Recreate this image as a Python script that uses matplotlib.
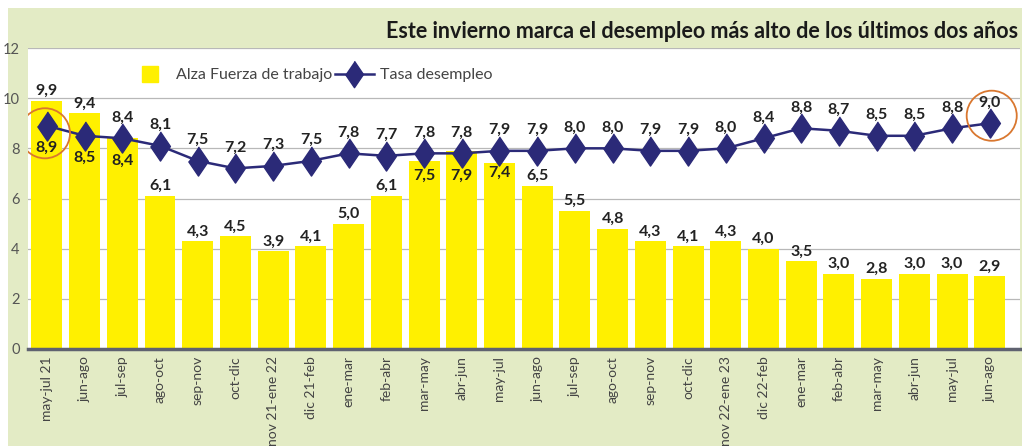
import numpy as np
import matplotlib.pyplot as plt
from matplotlib.patches import Rectangle
from matplotlib.lines import Line2D

# Datos
periodos = ["may-jul 21", "jun-ago", "jul-sep", "ago-oct", "sep-nov", "oct-dic",
            "nov 21-ene 22", "dic 21-feb", "ene-mar", "feb-abr", "mar-may", "abr-jun",
            "may-jul", "jun-ago", "jul-sep", "ago-oct", "sep-nov", "oct-dic",
            "nov 22-ene 23", "dic 22-feb", "ene-mar", "feb-abr", "mar-may", "abr-jun",
            "may-jul", "jun-ago"]
fuerza_trabajo = [9.9, 9.4, 8.4, 6.1, 4.3, 4.5, 3.9, 4.1, 5.0, 6.1, 7.5, 7.9, 7.4,
                  6.5, 5.5, 4.8, 4.3, 4.1, 4.3, 4.0, 3.5, 3.0, 2.8, 3.0, 3.0, 2.9]
desempleo = [8.9, 8.5, 8.4, 8.1, 7.5, 7.2, 7.3, 7.5, 7.8, 7.7, 7.8, 7.8, 7.9,
             7.9, 8.0, 8.0, 7.9, 7.9, 8.0, 8.4, 8.8, 8.7, 8.5, 8.5, 8.8, 9.0]

titulo = "Este invierno marca el desempleo más alto de los últimos dos años"

plt.rcParams['font.family'] = ['Lato', 'DejaVu Sans']

amarillo = "#fff000"
azul = "#2b2a78"
verde = "#e3ebc5"
rombo = [(0, 1), (0.68, 0), (0, -1), (-0.68, 0)]

fig = plt.figure(figsize=(10.22, 4.46), dpi=100)
fig.patch.set_facecolor("white")
# panel verde de fondo
fig.patches.append(Rectangle((8 / 1022, 0), 1, 1 - 8 / 446, transform=fig.transFigure,
                             facecolor=verde, edgecolor="none", zorder=-5))

ax = fig.add_axes([28 / 1022, 1 - 349 / 446, 992 / 1022, 301 / 446])
ax.set_zorder(1)
ax.set_facecolor("white")

x = np.arange(len(periodos))
ax.bar(x, fuerza_trabajo, width=0.82, color=amarillo, zorder=2)
ax.plot(x, desempleo, color=azul, linewidth=1.8, zorder=3,
        marker=rombo, markersize=21, markerfacecolor=azul, markeredgecolor=azul)

fmt = lambda v: f"{v:.1f}".replace(".", ",")

bold = dict(fontsize=11.5, fontweight="bold", color="#222222", ha="center", zorder=5)
for i, (b, d) in enumerate(zip(fuerza_trabajo, desempleo)):
    # etiqueta de la barra
    if i in (10, 11, 12):
        ax.annotate(fmt(b), (i, d), xytext=(0, -11), textcoords="offset points",
                    va="top", **bold)
    elif i == 2:
        ax.annotate(fmt(b), (i, d), xytext=(0, 10), textcoords="offset points",
                    va="bottom", **bold)
    else:
        ax.annotate(fmt(b), (i, b), xytext=(0, 2), textcoords="offset points",
                    va="bottom", **bold)
    # etiqueta de la línea
    if i in (0, 1, 2):
        ax.annotate(fmt(d), (i, d), xytext=(0, -11), textcoords="offset points",
                    va="top", **bold)
    else:
        ax.annotate(fmt(d), (i, d), xytext=(0, 10), textcoords="offset points",
                    va="bottom", **bold)

# círculos de resalte
ax.scatter([x[0] - 0.05, x[-1] + 0.05], [desempleo[0] - 0.3, desempleo[-1] + 0.3],
           s=1300, facecolors="none", edgecolors="#d9772f", linewidths=1.3, zorder=6)

ax.set_xlim(-0.5, len(periodos) - 0.2)
ax.set_ylim(0, 12)
ax.set_yticks(range(0, 13, 2))
ax.grid(axis="y", color="#b8b8b8", linewidth=0.9, zorder=0)
ax.set_axisbelow(True)
for s in ["top", "right", "left"]:
    ax.spines[s].set_visible(False)
ax.spines["bottom"].set_color("#5f6270")
ax.spines["bottom"].set_linewidth(2.5)
ax.spines["bottom"].set_zorder(4)
ax.tick_params(axis="y", length=0, pad=6, labelsize=10.5, labelcolor="#555555")
ax.tick_params(axis="x", length=0, pad=5, labelsize=10, labelcolor="#444444")
ax.set_xticks(x)
ax.set_xticklabels(periodos, rotation=90)

handles = [Line2D([], [], marker="s", linestyle="none", markersize=12,
                  markerfacecolor=amarillo, markeredgecolor=amarillo),
           Line2D([], [], color=azul, linewidth=1.8, marker=rombo, markersize=19)]
ax.legend(handles, ["Alza Fuerza de trabajo", "Tasa desempleo"], ncol=2,
          loc="center", bbox_to_anchor=(0.286, 0.91), frameon=False, fontsize=11.5,
          handlelength=2.4, columnspacing=0.2, handletextpad=0.4, labelcolor="#444444")

fig.text(1018 / 1022, 1 - 31 / 446, titulo, ha="right", va="center",
         fontsize=15.5, fontweight="bold", color="#1a1a1a")

plt.savefig("out.png", dpi=100, facecolor=fig.get_facecolor())
